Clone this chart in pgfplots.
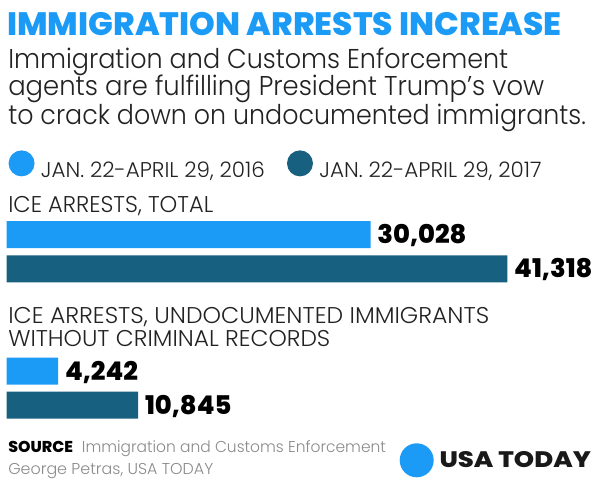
\documentclass[border=0pt]{standalone}
\usepackage{pgfplots}
\pgfplotsset{compat=1.18}
\usepackage{fontspec}
\usepackage{graphicx}
\setmainfont{Poppins}
\IfFontExistsTF{Poppins Light}{\newfontfamily\lightfont{Poppins Light}}{\newfontfamily\lightfont{Poppins}}
\IfFontExistsTF{Poppins ExtraBold}{\newfontfamily\heavyfont{Poppins ExtraBold}}{\newcommand\heavyfont{\bfseries}}
\definecolor{lb}{HTML}{1C9BF6}
\definecolor{db}{HTML}{17607F}
\definecolor{txt}{HTML}{222222}
\definecolor{src}{HTML}{8A8A8A}
\newcommand\fitw[2]{\resizebox{#1}{\height}{#2}}
\begin{document}
\begin{tikzpicture}[x=0.75pt,y=0.75pt]
\useasboundingbox (0,0) rectangle (600,490);
% title and subtitle
\node[anchor=base west,inner sep=0pt,text=lb] at (7,454) {\fontsize{24.3}{29}\selectfont\heavyfont\fitw{416pt}{IMMIGRATION ARRESTS INCREASE}};
\node[anchor=base west,inner sep=0pt,text=txt] at (8,421.7) {\fontsize{20.4}{24}\selectfont\lightfont\fitw{375pt}{Immigration and Customs Enforcement}};
\node[anchor=base west,inner sep=0pt,text=txt] at (8,394.5) {\fontsize{20.4}{24}\selectfont\lightfont\fitw{402pt}{agents are fulfilling President Trump’s vow}};
\node[anchor=base west,inner sep=0pt,text=txt] at (8,365.5) {\fontsize{20.4}{24}\selectfont\lightfont\fitw{433.3pt}{to crack down on undocumented immigrants.}};
% category labels
\node[anchor=base west,inner sep=0pt,text=txt] at (8,277.3) {\fontsize{17.1}{20}\selectfont\lightfont\fitw{153.75pt}{ICE ARRESTS, TOTAL}};
\node[anchor=base west,inner sep=0pt,text=txt] at (8,166.7) {\fontsize{17.1}{20}\selectfont\lightfont\fitw{360.75pt}{ICE ARRESTS, UNDOCUMENTED IMMIGRANTS}};
\node[anchor=base west,inner sep=0pt,text=txt] at (8,143.3) {\fontsize{17.1}{20}\selectfont\lightfont\fitw{241.5pt}{WITHOUT CRIMINAL RECORDS}};
% source
\node[anchor=base west,inner sep=0pt,text=black] at (8,37.3) {\fontsize{11.8}{14}\selectfont\heavyfont\fitw{48.5pt}{SOURCE}};
\node[anchor=base west,inner sep=0pt,text=src] at (81.7,37.3) {\fontsize{11.8}{14}\selectfont\lightfont\fitw{228pt}{Immigration and Customs Enforcement}};
\node[anchor=base west,inner sep=0pt,text=src] at (8,16) {\fontsize{11.8}{14}\selectfont\lightfont\fitw{153.75pt}{George Petras, USA TODAY}};
% logo
\fill[lb] (416.7,29.7) circle (17);
\node[anchor=base west,inner sep=0pt,text=black!90] at (439.3,22.7) {\fontsize{16.8}{20}\selectfont\heavyfont\fitw{113.5pt}{USA TODAY}};
\begin{axis}[
  at={(5.025pt,53.775pt)}, anchor=south west,
  scale only axis, width=375.45pt, height=147.975pt,
  xmin=0, xmax=41318, ymin=-418.3, ymax=-221,
  hide axis, clip=false,
  xbar, bar width=20.25pt, bar shift=0pt,
  nodes near coords,
  every node near coord/.append style={font=\fontsize{19.3}{22}\selectfont\heavyfont, anchor=west, inner sep=0pt, xshift=5pt, text height=13.5pt, text depth=0pt, text=black},
  /pgf/number format/1000 sep={,},
  /pgf/number format/assume math mode=true,
  legend columns=2,
  legend style={draw=none, fill=none, at={(0.0032,1.2838)}, anchor=west, inner sep=0pt,
    font=\fontsize{16}{19}\selectfont\lightfont, text=txt,
    nodes={inner sep=0pt},
    /tikz/every odd column/.append style={column sep=4.8pt},
    /tikz/every even column/.append style={column sep=16.5pt}},
]
\addplot[fill=lb, draw=none, legend image code/.code={\fill[lb] (9.75pt,5.6pt) circle (9.75pt);}]
  coordinates {(30028,-234.65) (4242,-371)};
\addlegendentry{\fitw{168pt}{JAN. 22-APRIL 29, 2016}}
\addplot[fill=db, draw=none, legend image code/.code={\fill[db] (9.75pt,5.6pt) circle (9.75pt);}]
  coordinates {(41318,-268.85) (10845,-405)};
\addlegendentry{\fitw{166.7pt}{JAN. 22-APRIL 29, 2017}}
\end{axis}
\end{tikzpicture}
\end{document}
